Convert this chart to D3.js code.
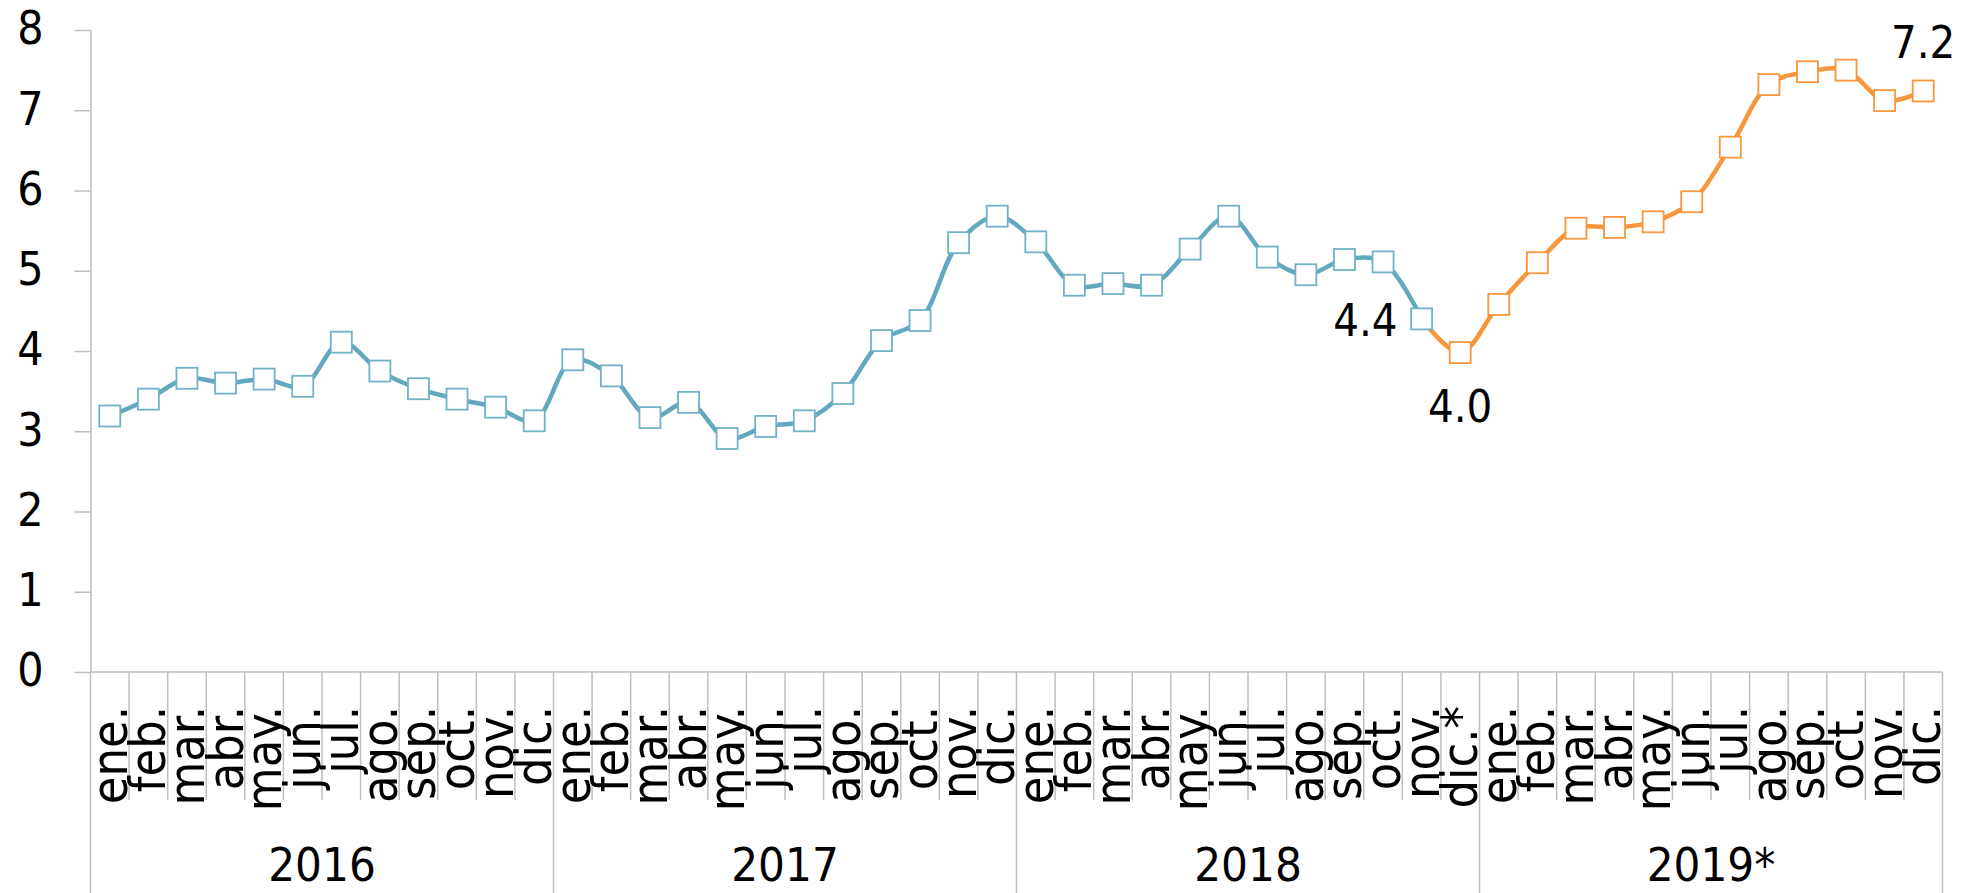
<!DOCTYPE html>
<html>
<head>
<meta charset="utf-8">
<script src="https://cdn.jsdelivr.net/npm/d3@7"></script>
<style>
  body { margin: 0; background: #fff; }
  text { font-family: "Liberation Sans Narrow", "DejaVu Sans Condensed", sans-serif; fill: #000; }
</style>
</head>
<body>
<div class="chart"></div>
<script>
// chart data
const years = ["2016", "2017", "2018", "2019*"];
const monthNames = ["ene.", "feb.", "mar.", "abr.", "may.", "jun.", "jul.", "ago.", "sep.", "oct.", "nov.", "dic."];
const values2016 = [3.19, 3.40, 3.66, 3.60, 3.65, 3.56, 4.11, 3.75, 3.53, 3.40, 3.30, 3.13];
const values2017 = [3.89, 3.69, 3.17, 3.36, 2.91, 3.06, 3.13, 3.47, 4.13, 4.38, 5.35, 5.68];
const values2018 = [5.36, 4.82, 4.84, 4.82, 5.27, 5.68, 5.17, 4.95, 5.14, 5.11, 4.40, 3.98];
const values2019 = [4.58, 5.10, 5.53, 5.54, 5.61, 5.86, 6.54, 7.32, 7.48, 7.50, 7.12, 7.24];
const yTicks = [0, 1, 2, 3, 4, 5, 6, 7, 8];
// point labels: month index, text
const pointLabels = [
  { i: 34, text: "4.4", pos: "left" },
  { i: 35, text: "4.0", pos: "below" },
  { i: 47, text: "7.2", pos: "above" }
];

const width = 1966;
const height = 893;
const blue = "#62a8bf";
const blueMark = "#72b1c7";
const orange = "#f7963c";

// flatten months
const allValues = [values2016, values2017, values2018, values2019];
const months = [];
years.forEach((yr, yi) => {
  monthNames.forEach((m, mi) => {
    let label = m;
    if (yr === "2018" && m === "dic.") label = "dic.*";
    months.push({ key: yr + "-" + mi, label: label, year: yr, value: allValues[yi][mi] });
  });
});

const svg = d3.select(".chart").append("svg")
  .attr("width", width)
  .attr("height", height);

const x = d3.scaleBand()
  .domain(months.map(d => d.key))
  .range([90.5, 1942.5]);
const y = d3.scaleLinear()
  .domain([0, 8])
  .range([672, 30]);
const bw = x.bandwidth();
const cx = d => x(d.key) + bw / 2;

// y axis
const yAxis = svg.append("g")
  .attr("transform", "translate(90.5,0)")
  .call(d3.axisLeft(y).tickValues(yTicks).tickSize(16).tickSizeOuter(0).tickPadding(31));
yAxis.select(".domain").attr("stroke", "#bfbfbf").attr("stroke-width", 1.5);
yAxis.selectAll(".tick line").attr("stroke", "#bfbfbf").attr("stroke-width", 1.5);
yAxis.selectAll(".tick text")
  .style("font-size", "46px")
  .attr("dy", "0.3em");

// x axis line
svg.append("line")
  .attr("x1", 90.5).attr("x2", 1942.5)
  .attr("y1", y(0)).attr("y2", y(0))
  .attr("stroke", "#bfbfbf").attr("stroke-width", 1.5);

// month separators
svg.append("g").selectAll("line")
  .data(months)
  .join("line")
  .attr("x1", d => x(d.key)).attr("x2", d => x(d.key))
  .attr("y1", y(0))
  .attr("y2", d => d.key.endsWith("-0") ? height : 800)
  .attr("stroke", "#bfbfbf").attr("stroke-width", 1.5);
svg.append("line")
  .attr("x1", 1942.5).attr("x2", 1942.5)
  .attr("y1", y(0)).attr("y2", height)
  .attr("stroke", "#bfbfbf").attr("stroke-width", 1.5);

// month labels
svg.append("g").selectAll("text")
  .data(months)
  .join("text")
  .attr("transform", d => "translate(" + (cx(d) + 17) + "," + 706 + ") rotate(-90)")
  .attr("text-anchor", "end")
  .style("font-size", "50px")
  .text(d => d.label);

// year labels
svg.append("g").selectAll("text")
  .data(years)
  .join("text")
  .attr("x", yr => x(yr + "-0") + bw * 6)
  .attr("y", 881)
  .attr("text-anchor", "middle")
  .style("font-size", "47px")
  .text(yr => yr);

// lines
const line = d3.line()
  .x(d => cx(d))
  .y(d => y(d.value))
  .curve(d3.curveCatmullRom.alpha(0.5));

const blueData = months.slice(0, 35);
const orangeData = months.slice(34);

svg.append("path")
  .datum(blueData)
  .attr("d", line)
  .attr("fill", "none")
  .attr("stroke", blue)
  .attr("stroke-width", 4.5);
svg.append("path")
  .datum(orangeData)
  .attr("d", line)
  .attr("fill", "none")
  .attr("stroke", orange)
  .attr("stroke-width", 4.5);

// markers
svg.append("g").selectAll("rect")
  .data(months)
  .join("rect")
  .attr("x", d => cx(d) - 10.5)
  .attr("y", d => y(d.value) - 10.5)
  .attr("width", 21)
  .attr("height", 21)
  .attr("fill", "#fff")
  .attr("stroke", (d, i) => i < 35 ? blueMark : orange)
  .attr("stroke-width", 1.8);

// point labels
svg.append("g").selectAll("text")
  .data(pointLabels)
  .join("text")
  .attr("x", d => d.pos === "left" ? cx(months[d.i]) - 24 : cx(months[d.i]))
  .attr("y", d => {
    const py = y(months[d.i].value);
    if (d.pos === "left") return py + 17;
    if (d.pos === "below") return py + 69;
    return py - 33;
  })
  .attr("text-anchor", d => d.pos === "left" ? "end" : "middle")
  .style("font-size", "45px")
  .text(d => d.text);
</script>
</body>
</html>
